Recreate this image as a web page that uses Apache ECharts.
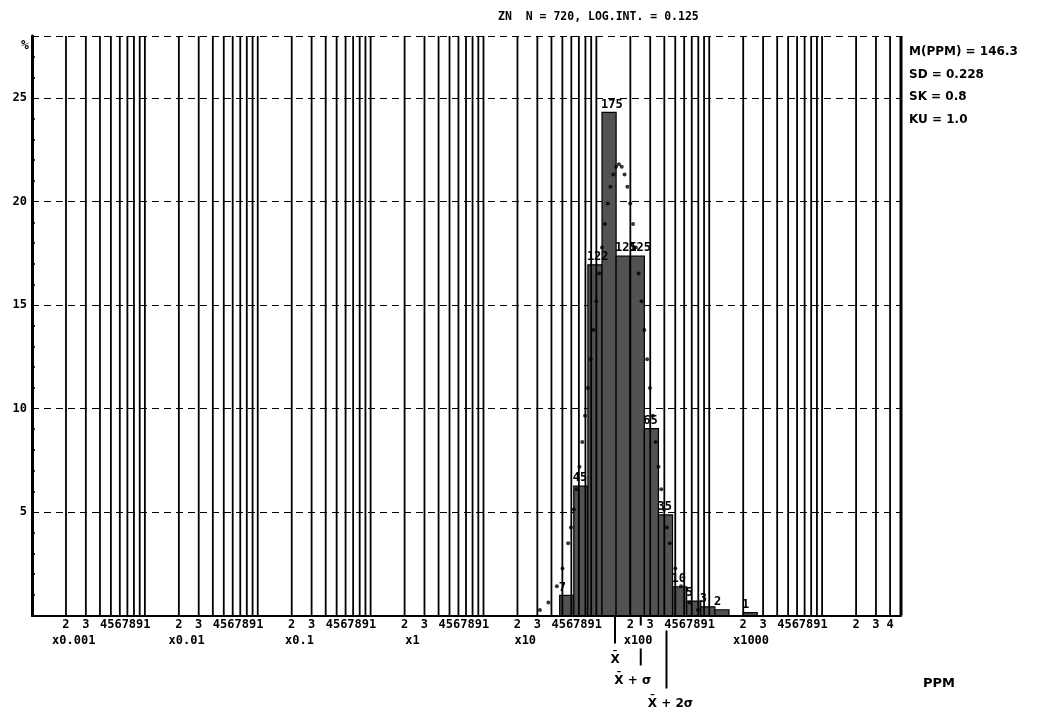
<!DOCTYPE html>
<html>
<head>
<meta charset="utf-8">
<script src="https://cdn.jsdelivr.net/npm/echarts@6/dist/echarts.min.js"></script>
<style>
html,body{margin:0;padding:0;background:#fff;}
#c{width:1049px;height:714px;}
</style>
</head>
<body>
<div id="c"></div>
<script>
// ---------- DATA ----------
const titleText = 'ZN  N = 720, LOG.INT. = 0.125';
const statsLines = ['M(PPM) = 146.3', 'SD = 0.228', 'SK = 0.8', 'KU = 1.0'];
const yUnit = '%';
const xUnit = 'PPM';
const totalN = 720;
const meanPPM = 146.3;
const sdLog = 0.228;
const binWidthLog = 0.125;
// lower edge of each histogram bin (log10 ppm) and counts
const binLowerLog = [1.675, 1.80, 1.925, 2.05, 2.175, 2.30, 2.425, 2.55, 2.675, 2.80, 2.925, 3.05, 3.175, 3.30];
const binCounts   = [7,     45,   122,   175,  125,   125,  65,    35,   10,    5,    3,     2,    0,     1];
// dotted fitted curve (log10 ppm, %)
const curveLog = [1.50, 1.575, 1.65, 1.70, 1.75, 1.775, 1.80, 1.825, 1.85, 1.875, 1.90, 1.925, 1.95, 1.975, 2.00, 2.025, 2.05, 2.075, 2.10, 2.125, 2.15, 2.175, 2.20, 2.225, 2.25, 2.275, 2.30, 2.325, 2.35, 2.375, 2.40, 2.425, 2.45, 2.475, 2.50, 2.525, 2.55, 2.575, 2.60, 2.625, 2.65, 2.70, 2.75, 2.825, 2.90];
const curvePct = [0.26, 0.63, 1.41, 2.27, 3.49, 4.25, 5.12, 6.10, 7.19, 8.38, 9.65, 10.99, 12.38, 13.79, 15.18, 16.52, 17.78, 18.92, 19.91, 20.72, 21.31, 21.68, 21.8, 21.68, 21.31, 20.72, 19.91, 18.92, 17.78, 16.52, 15.18, 13.79, 12.38, 10.99, 9.65, 8.38, 7.19, 6.10, 5.12, 4.25, 3.49, 2.27, 1.41, 0.63, 0.26];
// axis definitions
const decadeExps = [-3, -2, -1, 0, 1, 2, 3, 4];
const decadeLabels = ['x0.001', 'x0.01', 'x0.1', 'x1', 'x10', 'x100', 'x1000'];
const gridMultipliers = [1, 2, 3, 4, 5, 6, 7, 8, 9];
const lastDecadeMaxMult = 5;          // axis ends at 5 x 10^4 ppm
const yMajorTicks = [5, 10, 15, 20, 25];
const yMax = 28;
const denseDigitGroup = '4567891';

// ---------- DERIVED ----------
const X_MIN = -3, X_MAX = Math.log10(lastDecadeMaxMult * 1e4);
const binData = binLowerLog.map((lo, i) => [lo, lo + binWidthLog, binCounts[i] / totalN * 100, binCounts[i]]);
const curveData = curveLog.map((x, i) => [x, curvePct[i]]);

const gridValues = [];
decadeExps.forEach(d => {
  gridMultipliers.forEach(m => {
    if (d === -3 && m === 1) return;
    if (d === 4 && m > lastDecadeMaxMult) return;
    gridValues.push([d + Math.log10(m), (d === 4 && m === lastDecadeMaxMult) ? 1 : 0]);
  });
});

const digitValues = [];
const groupValues = [];
decadeExps.forEach(d => {
  if (d < 4) {
    digitValues.push(d + Math.log10(2), d + Math.log10(3));
    groupValues.push(d + Math.log10(4));
  } else {
    digitValues.push(d + Math.log10(2), d + Math.log10(3), d + Math.log10(4));
  }
});
const decadeLabelValues = decadeExps.slice(0, 7).map(d => d + 0.37);

const yMinor = [];
for (let v = 1; v < yMax; v++) if (v % 5 !== 0) yMinor.push(v);

const meanLog = Math.log10(meanPPM);
const markerData = [[meanLog, 0], [meanLog + sdLog, 1], [meanLog + 2 * sdLog, 2]];
const markerText = ['X\u0304', 'X\u0304 + \u03c3', 'X\u0304 + 2\u03c3'];

const MONO = '"DejaVu Sans Mono", "Liberation Mono", monospace';
const SANS = '"DejaVu Sans", "Liberation Sans", sans-serif';

const chart = echarts.init(document.getElementById('c'), null, {renderer: 'canvas'});

const baseX = {
  type: 'value', min: X_MIN, max: X_MAX, gridIndex: 0, position: 'bottom',
  splitLine: {show: false}, axisTick: {show: false}
};

const option = {
  backgroundColor: '#fff',
  animation: false,
  title: [
    {text: titleText, left: 493, top: 6,
     textStyle: {fontFamily: MONO, fontWeight: 'bold', fontSize: 11.5, color: '#000'}},
    {text: statsLines.join('\n'), left: 904, top: 36,
     textStyle: {fontFamily: SANS, fontWeight: 'bold', fontSize: 12, lineHeight: 22.5, color: '#000'}},
    {text: xUnit, left: 918, top: 672,
     textStyle: {fontFamily: SANS, fontWeight: 'bold', fontSize: 13, color: '#000'}},
    {text: yUnit, left: 16, top: 34,
     textStyle: {fontFamily: MONO, fontWeight: 'bold', fontSize: 13, color: '#000'}}
  ],
  grid: {left: 32, right: 148, top: 36, bottom: 98.5, containLabel: false},
  xAxis: [
    Object.assign({}, baseX, {
      axisLine: {show: true, onZero: false, lineStyle: {color: '#000', width: 2}},
      axisLabel: {
        customValues: digitValues, margin: 3, color: '#000',
        fontFamily: MONO, fontWeight: 'bold', fontSize: 12,
        formatter: v => String(Math.round(Math.pow(10, v - Math.floor(v + 1e-9))))
      }
    }),
    Object.assign({}, baseX, {
      axisLine: {show: false, onZero: false},
      axisLabel: {
        customValues: groupValues, margin: 3, color: '#000', align: 'left',
        fontFamily: MONO, fontWeight: 'bold', fontSize: 12,
        formatter: () => denseDigitGroup
      }
    }),
    Object.assign({}, baseX, {
      axisLine: {show: false, onZero: false},
      axisLabel: {
        customValues: decadeLabelValues, margin: 19, color: '#000',
        fontFamily: MONO, fontWeight: 'bold', fontSize: 12,
        formatter: v => decadeLabels[Math.floor(v) + 3]
      }
    })
  ],
  yAxis: [
    {
      type: 'value', min: 0, max: yMax, interval: 5, position: 'left',
      axisLine: {show: true, onZero: false, lineStyle: {color: '#000', width: 3}},
      axisTick: {show: false},
      axisLabel: {customValues: yMajorTicks, margin: 5, color: '#000',
                  fontFamily: MONO, fontWeight: 'bold', fontSize: 12},
      splitLine: {show: true, lineStyle: {color: '#000', width: 1, type: [7, 5]}}
    },
    {
      type: 'value', min: 0, max: yMax, position: 'left',
      axisLine: {show: false, onZero: false}, axisLabel: {show: false}, splitLine: {show: false},
      axisTick: {show: true, inside: true, length: 3, customValues: yMinor,
                 lineStyle: {color: '#000', width: 1.5}}
    }
  ],
  series: [
    {
      type: 'custom', name: 'bins', xAxisIndex: 0, yAxisIndex: 0, z: 2, silent: true, clip: false,
      data: binData,
      encode: {x: [0, 1], y: 2},
      renderItem: function (params, api) {
        const lo = api.value(0), hi = api.value(1), pct = api.value(2), cnt = api.value(3);
        const p0 = api.coord([lo, pct]);
        const p1 = api.coord([hi, 0]);
        const children = [];
        if (cnt > 0) {
          children.push({type: 'rect',
            shape: {x: p0[0], y: p0[1], width: p1[0] - p0[0], height: p1[1] - p0[1]},
            style: {fill: '#525252', stroke: '#000', lineWidth: 1.2}});
          children.push({type: 'text', z2: 10,
            style: {text: String(cnt), x: p0[0] - 1, y: p0[1] - 2, align: 'left', verticalAlign: 'bottom',
                    font: 'bold 12px ' + MONO, fill: '#000'}});
        }
        return {type: 'group', children: children};
      }
    },
    {
      type: 'custom', name: 'vgrid', xAxisIndex: 0, yAxisIndex: 0, z: 3, silent: true, clip: false,
      data: gridValues,
      encode: {x: 0},
      renderItem: function (params, api) {
        const v = api.value(0), border = api.value(1);
        const p0 = api.coord([v, 0]);
        const p1 = api.coord([v, yMax]);
        return {type: 'line', shape: {x1: p0[0], y1: p0[1], x2: p1[0], y2: p1[1]},
                style: {stroke: '#000', lineWidth: border ? 3 : 1.8}};
      }
    },
    {
      type: 'scatter', name: 'curve', xAxisIndex: 0, yAxisIndex: 0, z: 5, silent: true,
      symbol: 'circle', symbolSize: 4, itemStyle: {color: '#000'},
      data: curveData
    },
    {
      type: 'custom', name: 'markers', xAxisIndex: 0, yAxisIndex: 0, z: 6, silent: true, clip: false,
      data: markerData,
      encode: {x: 0},
      renderItem: function (params, api) {
        const v = api.value(0), k = api.value(1);
        const p = api.coord([v, 0]);
        const x = p[0], y = p[1];
        const seg = (a, b) => ({type: 'line', shape: {x1: x, y1: y + a, x2: x, y2: y + b},
                                style: {stroke: '#000', lineWidth: 2}});
        const txt = (dx, dy) => ({type: 'text', style: {text: markerText[k], x: x + dx, y: y + dy,
                                align: 'center', verticalAlign: 'middle', font: 'bold 12px ' + SANS, fill: '#000'}});
        let ch;
        if (k === 0) ch = [seg(0, 28), txt(0, 44)];
        else if (k === 1) ch = [seg(0, 10), seg(33, 50), txt(-8, 65)];
        else ch = [seg(15, 73), txt(4, 88)];
        return {type: 'group', children: ch};
      }
    }
  ]
};
chart.setOption(option);
</script>
</body>
</html>
